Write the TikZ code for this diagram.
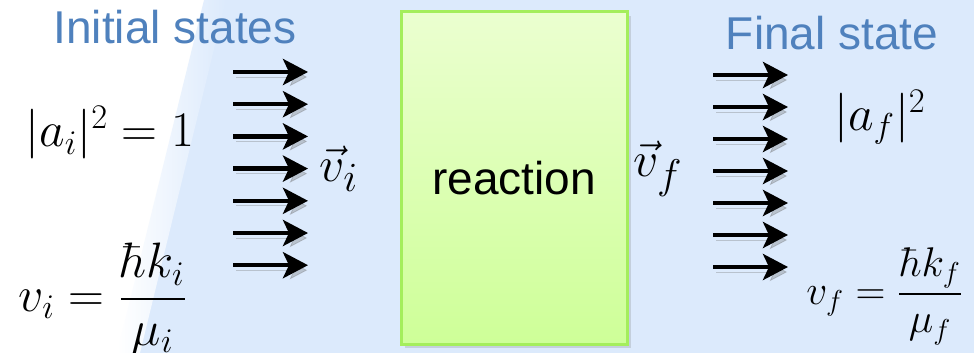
\documentclass[tikz,border=0pt]{standalone}
\usepackage{amsmath,amssymb}
\usepackage{fontspec}
\usepackage{tikz}
\usetikzlibrary{arrows.meta,shadows}
\newfontfamily\arialfont{Liberation Sans}
\definecolor{bgblue}{RGB}{220,234,252}
\definecolor{titleblue}{RGB}{79,129,189}
\definecolor{boxtop}{RGB}{235,255,208}
\definecolor{boxbottom}{RGB}{206,255,152}
\definecolor{boxline}{RGB}{164,238,92}
\tikzstyle{title} = [text=titleblue, font=\arialfont\fontsize{23}{27}\selectfont, inner sep=0pt]
\tikzstyle{reactbox} = [rectangle, minimum width=113pt, minimum height=166pt, draw=boxline, line width=1.5pt, top color=boxtop, bottom color=boxbottom, font=\arialfont\fontsize{23}{27}\selectfont, drop shadow={shadow xshift=2pt, shadow yshift=-2pt, opacity=0.25}]
\tikzstyle{formula} = [inner sep=0pt, font=\fontsize{25}{29}\selectfont]
\tikzstyle{velocity} = [inner sep=0pt, font=\fontsize{31}{35}\selectfont]
\tikzstyle{beam} = [line width=2.2pt, -{Stealth[length=12.5pt, width=13pt, inset=3pt]}, preaction={draw=black!60, opacity=0.3, transform canvas={shift={(1.5pt,-2.5pt)}}}]

\begin{document}
\begin{tikzpicture}[x=0.5pt, y=-0.5pt]
\fill[bgblue] (0,0) rectangle (974,353);
\fill[white] (0,0) -- (205,0) -- (118,353) -- (0,353) -- cycle;
\shade[left color=white, right color=bgblue] (204,0) -- (226,0) -- (140,353) -- (117,353) -- cycle;
\useasboundingbox (0,0) rectangle (974,353);

\node (inittitle) [title] at (175,27) {Initial states};
\node (finaltitle) [title] at (832,33) {Final state};
\node (reaction) [reactbox] at (514,178) {reaction};

\node (ai) [formula] at (110,133) {$|a_i|^2 = 1$};
\node (vi) [formula] at (103,299) {$\displaystyle v_i = \frac{\hbar k_i}{\mu_i}$};
\node (vivec) [velocity] at (339,169) {$\vec{v}_i$};
\node (vfvec) [velocity] at (658,169) {$\vec{v}_f$};
\node (af) [formula] at (880,117) {$|a_f|^2$};
\node (vf) [formula, anchor=west, font=\fontsize{21.5}{25}\selectfont] at (806,296) {$\displaystyle v_f = \frac{\hbar k_f}{\mu_f}$};

\foreach \k in {0,...,6} {
  \coordinate (in\k a) at (233,72+32.2*\k);
  \coordinate (in\k b) at (308,72+32.2*\k);
  \coordinate (out\k a) at (713,75+32*\k);
  \coordinate (out\k b) at (788,75+32*\k);
  \draw [beam] (in\k a) -- (in\k b);
  \draw [beam] (out\k a) -- (out\k b);
}
\end{tikzpicture}
\end{document}
